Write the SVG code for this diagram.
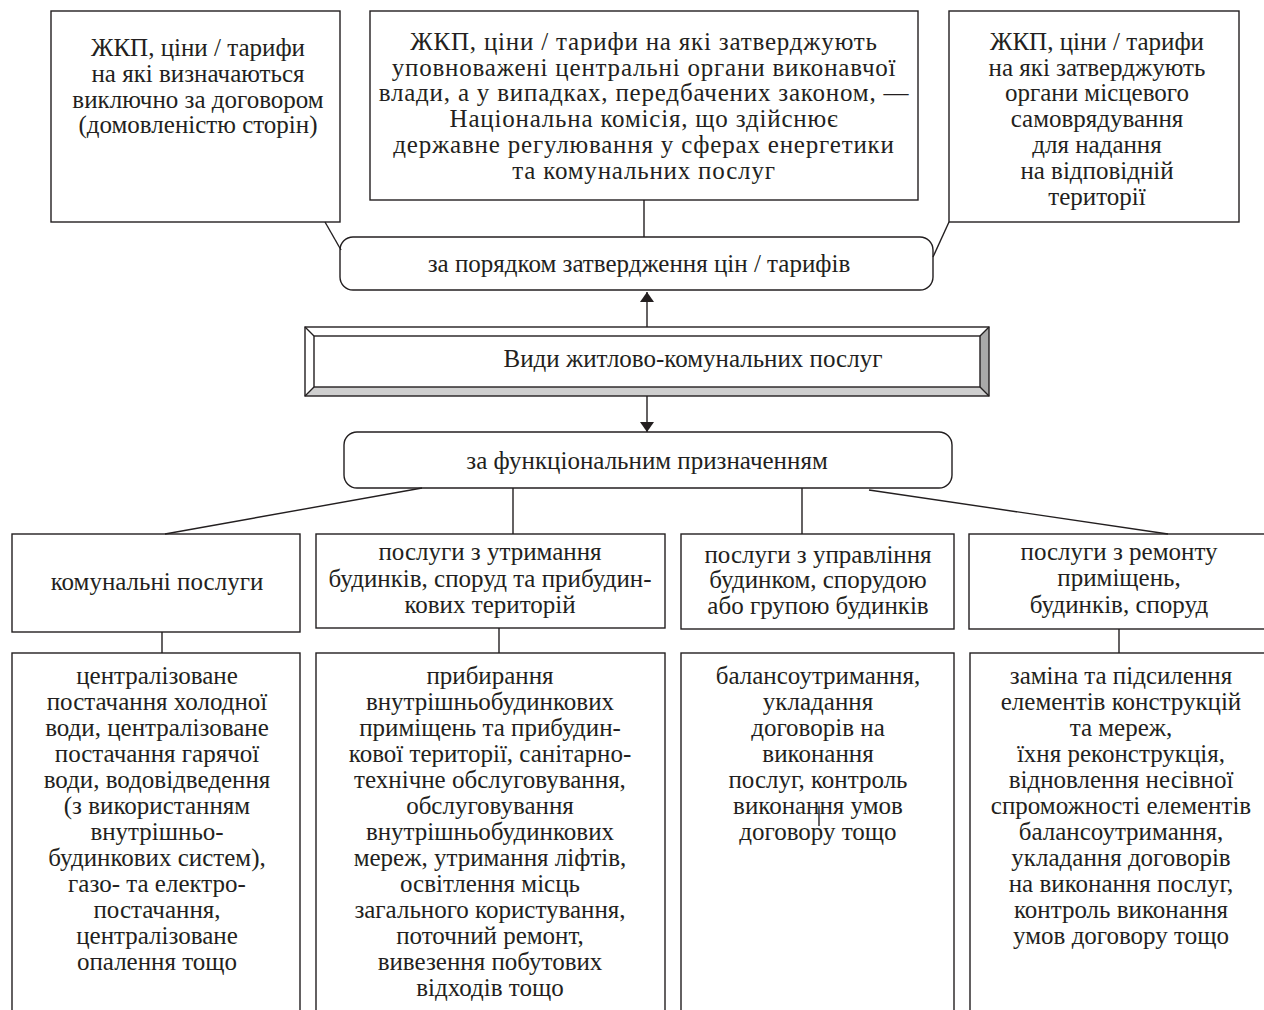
<svg xmlns="http://www.w3.org/2000/svg" width="1264" height="1010" viewBox="0 0 1264 1010">
<style>
.b{fill:#fff;stroke:#231f20;stroke-width:1.4}
.t{font-family:"Liberation Serif","Times New Roman",serif;font-size:25px;fill:#231f20;text-anchor:middle}
.w{letter-spacing:0.8px}
.c{stroke:#231f20;stroke-width:1.4;fill:none}
</style>
<defs>
<marker id="ah" viewBox="0 0 10 14" refX="10" refY="7" markerWidth="10" markerHeight="14" markerUnits="userSpaceOnUse" orient="auto">
<path d="M0,0 L10,7 L0,14 z" fill="#231f20"/>
</marker>
</defs>
<rect width="1264" height="1010" fill="#fff"/>

<g id="top1">
<rect class="b" x="51" y="11" width="289" height="211"/>
<text class="t" x="198"><tspan x="198" y="56">ЖКП, ціни / тарифи</tspan><tspan x="198" y="82">на які визначаються</tspan><tspan x="198" y="108">виключно за договором</tspan><tspan x="198" y="133">(домовленістю сторін)</tspan></text>
</g>
<g id="top2">
<rect class="b" x="370" y="11" width="548" height="189"/>
<text class="t w" x="644"><tspan x="644" y="50">ЖКП, ціни / тарифи на які затверджують</tspan><tspan x="644" y="76">уповноважені центральні органи виконавчої</tspan><tspan x="644" y="101">влади, а у випадках, передбачених законом, —</tspan><tspan x="644" y="127">Національна комісія, що здійснює</tspan><tspan x="644" y="153">державне регулювання у сферах енергетики</tspan><tspan x="644" y="179">та комунальних послуг</tspan></text>
</g>
<g id="top3">
<rect class="b" x="949" y="11" width="290" height="211"/>
<text class="t" x="1097"><tspan x="1097" y="50">ЖКП, ціни / тарифи</tspan><tspan x="1097" y="76">на які затверджують</tspan><tspan x="1097" y="101">органи місцевого</tspan><tspan x="1097" y="127">самоврядування</tspan><tspan x="1097" y="153">для надання</tspan><tspan x="1097" y="179">на відповідній</tspan><tspan x="1097" y="205">території</tspan></text>
</g>

<g id="byPrice">
<rect class="b" x="340" y="237" width="593" height="53" rx="13" ry="13"/>
<text class="t" x="639" y="272">за порядком затвердження цін / тарифів</text>
</g>

<g id="main">
<rect x="305" y="327" width="684" height="69" fill="#fff"/>
<polygon points="305,327 989,327 980,336 314,336" fill="#fff"/>
<polygon points="305,327 314,336 314,387 305,396" fill="#fff"/>
<polygon points="989,327 989,396 980,387 980,336" fill="#a9a9a9"/>
<polygon points="305,396 989,396 980,387 314,387" fill="#cfcfcf"/>
<rect class="c" x="305" y="327" width="684" height="69"/>
<rect class="c" x="314" y="336" width="666" height="51"/>
<path class="c" d="M305,327 L314,336 M989,327 L980,336 M305,396 L314,387 M989,396 L980,387"/>
<text class="t" x="693" y="367">Види житлово-комунальних послуг</text>
</g>

<g id="byFunc">
<rect class="b" x="344" y="432" width="608" height="56" rx="13" ry="13"/>
<text class="t" x="647" y="469">за функціональним призначенням</text>
</g>

<g id="mid1">
<rect class="b" x="12" y="534" width="288" height="98"/>
<text class="t" x="157" y="590">комунальні послуги</text>
</g>
<g id="mid2">
<rect class="b" x="316" y="534" width="349" height="94"/>
<text class="t" x="490"><tspan x="490" y="560">послуги з утримання</tspan><tspan x="490" y="587">будинків, споруд та прибудин-</tspan><tspan x="490" y="613">кових територій</tspan></text>
</g>
<g id="mid3">
<rect class="b" x="681" y="534" width="273" height="95"/>
<text class="t" x="818"><tspan x="818" y="563">послуги з управління</tspan><tspan x="818" y="588">будинком, спорудою</tspan><tspan x="818" y="614">або групою будинків</tspan></text>
</g>
<g id="mid4">
<rect class="b" x="969" y="534" width="310" height="95"/>
<text class="t" x="1119"><tspan x="1119" y="560">послуги з ремонту</tspan><tspan x="1119" y="586">приміщень,</tspan><tspan x="1119" y="613">будинків, споруд</tspan></text>
</g>

<g id="bot1">
<rect class="b" x="12" y="653" width="288" height="380"/>
<text class="t" x="157"><tspan x="157" y="684">централізоване</tspan><tspan x="157" y="710">постачання холодної</tspan><tspan x="157" y="736">води, централізоване</tspan><tspan x="157" y="762">постачання гарячої</tspan><tspan x="157" y="788">води, водовідведення</tspan><tspan x="157" y="814">(з використанням</tspan><tspan x="157" y="840">внутрішньо-</tspan><tspan x="157" y="866">будинкових систем),</tspan><tspan x="157" y="892">газо- та електро-</tspan><tspan x="157" y="918">постачання,</tspan><tspan x="157" y="944">централізоване</tspan><tspan x="157" y="970">опалення тощо</tspan></text>
</g>
<g id="bot2">
<rect class="b" x="316" y="653" width="349" height="380"/>
<text class="t" x="490"><tspan x="490" y="684">прибирання</tspan><tspan x="490" y="710">внутрішньобудинкових</tspan><tspan x="490" y="736">приміщень та прибудин-</tspan><tspan x="490" y="762">кової території, санітарно-</tspan><tspan x="490" y="788">технічне обслуговування,</tspan><tspan x="490" y="814">обслуговування</tspan><tspan x="490" y="840">внутрішньобудинкових</tspan><tspan x="490" y="866">мереж, утримання ліфтів,</tspan><tspan x="490" y="892">освітлення місць</tspan><tspan x="490" y="918">загального користування,</tspan><tspan x="490" y="944">поточний ремонт,</tspan><tspan x="490" y="970">вивезення побутових</tspan><tspan x="490" y="996">відходів тощо</tspan></text>
</g>
<g id="bot3">
<rect class="b" x="681" y="653" width="273" height="380"/>
<text class="t" x="818"><tspan x="818" y="684">балансоутримання,</tspan><tspan x="818" y="710">укладання</tspan><tspan x="818" y="736">договорів на</tspan><tspan x="818" y="762">виконання</tspan><tspan x="818" y="788">послуг, контроль</tspan><tspan x="818" y="814">виконання умов</tspan><tspan x="818" y="840">договору тощо</tspan></text>
</g>
<g id="bot4">
<rect class="b" x="970" y="653" width="310" height="380"/>
<text class="t" x="1121"><tspan x="1121" y="684">заміна та підсилення</tspan><tspan x="1121" y="710">елементів конструкцій</tspan><tspan x="1121" y="736">та мереж,</tspan><tspan x="1121" y="762">їхня реконструкція,</tspan><tspan x="1121" y="788">відновлення несівної</tspan><tspan x="1121" y="814">спроможності елементів</tspan><tspan x="1121" y="840">балансоутримання,</tspan><tspan x="1121" y="866">укладання договорів</tspan><tspan x="1121" y="892">на виконання послуг,</tspan><tspan x="1121" y="918">контроль виконання</tspan><tspan x="1121" y="944">умов договору тощо</tspan></text>
</g>

<g id="connectors">
<line class="c" x1="325" y1="222" x2="341" y2="250"/>
<line class="c" x1="644" y1="200" x2="644" y2="237"/>
<line class="c" x1="949" y1="222" x2="933" y2="257"/>
<line class="c" x1="647" y1="327" x2="647" y2="292" marker-end="url(#ah)"/>
<line class="c" x1="647" y1="396" x2="647" y2="432" marker-end="url(#ah)"/>
<line class="c" x1="422" y1="488" x2="165" y2="534"/>
<line class="c" x1="513" y1="488" x2="513" y2="534"/>
<line class="c" x1="802" y1="488" x2="802" y2="534"/>
<line class="c" x1="869" y1="490" x2="1168" y2="534"/>
<line class="c" x1="162" y1="632" x2="162" y2="653"/>
<line class="c" x1="499" y1="628" x2="499" y2="653"/>
<line class="c" x1="1119" y1="629" x2="1119" y2="653"/>
<line class="c" x1="819" y1="806" x2="819" y2="826"/>
</g>
</svg>
